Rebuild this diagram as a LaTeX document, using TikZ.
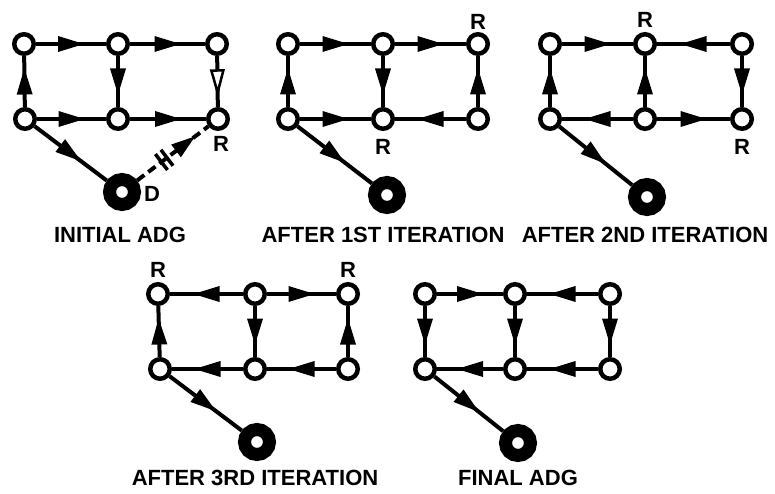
\documentclass[tikz,border=0pt]{standalone}
\usepackage{fontspec}
\usepackage{tikz}
\usetikzlibrary{decorations.markings}
\setmainfont{Liberation Sans}

\tikzset{
    vertex/.style={draw, circle, line width=4.5pt, fill=white, inner sep=0pt, minimum size=19.5pt},
    sink/.style={draw, circle, line width=13pt, fill=white, inner sep=0pt, minimum size=25pt},
    flow/.style={line width=4pt, postaction={decorate, decoration={markings,
        mark=at position 0.5 with {\fill (-13pt,-8pt) -- (13pt,0pt) -- (-13pt,8pt) -- cycle;}}}},
    flow open/.style={line width=4pt, postaction={decorate, decoration={markings,
        mark=at position 0.5 with {\draw[line width=2.5pt, fill=white, line join=miter] (-11pt,-6pt) -- (11pt,0pt) -- (-11pt,6pt) -- cycle;}}}},
    cutflow/.style={line width=4pt, dash pattern=on 9pt off 5pt, postaction={decorate, decoration={markings,
        mark=at position 0.38 with {\draw[solid, line width=3.5pt] (-3.5pt,-10pt) -- (-3.5pt,10pt) (3.5pt,-10pt) -- (3.5pt,10pt);},
        mark=at position 0.68 with {\fill (-12pt,-8pt) -- (12pt,0pt) -- (-12pt,8pt) -- cycle;}}}},
    tag/.style={inner sep=0pt, font=\bfseries\fontsize{22}{24}\selectfont},
    caption/.style={inner sep=0pt, font=\bfseries\fontsize{22}{24}\selectfont}
}

\begin{document}
\begin{tikzpicture}[x=1pt, y=-1pt]
    \useasboundingbox (0,0) rectangle (775,494);

    %% Initial ADG
    \node[vertex] (ini-a1) at (24, 44) {};
    \node[vertex] (ini-a2) at (118, 44) {};
    \node[vertex] (ini-a3) at (217, 44) {};
    \node[vertex] (ini-b1) at (25, 119) {};
    \node[vertex] (ini-b2) at (118, 119) {};
    \node[vertex] (ini-b3) at (218, 119) {};
    \node[sink] (ini-s) at (122, 192) {};
    \node[tag] (ini-r) at (221, 144) {R};
    \node[tag] (ini-d) at (152, 194) {D};
    \node[caption] (ini-cap) at (120, 235) {INITIAL ADG};

    \draw[flow] (ini-a1) -- (ini-a2);
    \draw[flow] (ini-a2) -- (ini-a3);
    \draw[flow] (ini-b1) -- (ini-a1);
    \draw[flow] (ini-a2) -- (ini-b2);
    \draw[flow open] (ini-a3) -- (ini-b3);
    \draw[flow] (ini-b1) -- (ini-b2);
    \draw[flow] (ini-b2) -- (ini-b3);
    \draw[flow] (ini-b1) -- (ini-s);
    % cut edge back to the root
    \draw[cutflow] (ini-s) -- (ini-b3);

    %% After 1st iteration
    \node[vertex] (it1-a1) at (288, 44) {};
    \node[vertex] (it1-a2) at (383, 44) {};
    \node[vertex] (it1-a3) at (478, 44) {};
    \node[vertex] (it1-b1) at (288, 119) {};
    \node[vertex] (it1-b2) at (383, 119) {};
    \node[vertex] (it1-b3) at (478, 119) {};
    \node[sink] (it1-s) at (387, 195) {};
    \node[tag] (it1-r1) at (478, 22) {R};
    \node[tag] (it1-r2) at (383, 147) {R};
    \node[caption] (it1-cap) at (383, 235) {AFTER 1ST ITERATION};

    \draw[flow] (it1-a1) -- (it1-a2);
    \draw[flow] (it1-a2) -- (it1-a3);
    \draw[flow] (it1-b1) -- (it1-a1);
    \draw[flow] (it1-a2) -- (it1-b2);
    \draw[flow] (it1-b3) -- (it1-a3);
    \draw[flow] (it1-b1) -- (it1-b2);
    \draw[flow] (it1-b3) -- (it1-b2);
    \draw[flow] (it1-b1) -- (it1-s);

    %% After 2nd iteration
    \node[vertex] (it2-a1) at (550, 44) {};
    \node[vertex] (it2-a2) at (645, 44) {};
    \node[vertex] (it2-a3) at (742, 44) {};
    \node[vertex] (it2-b1) at (550, 119) {};
    \node[vertex] (it2-b2) at (645, 119) {};
    \node[vertex] (it2-b3) at (742, 119) {};
    \node[sink] (it2-s) at (647, 197) {};
    \node[tag] (it2-r1) at (645, 20) {R};
    \node[tag] (it2-r2) at (742, 147) {R};
    \node[caption] (it2-cap) at (645, 235) {AFTER 2ND ITERATION};

    \draw[flow] (it2-a1) -- (it2-a2);
    \draw[flow] (it2-a3) -- (it2-a2);
    \draw[flow] (it2-b1) -- (it2-a1);
    \draw[flow] (it2-b2) -- (it2-a2);
    \draw[flow] (it2-a3) -- (it2-b3);
    \draw[flow] (it2-b2) -- (it2-b1);
    \draw[flow] (it2-b2) -- (it2-b3);
    \draw[flow] (it2-b1) -- (it2-s);

    %% After 3rd iteration
    \node[vertex] (it3-a1) at (158, 294) {};
    \node[vertex] (it3-a2) at (255, 294) {};
    \node[vertex] (it3-a3) at (348, 294) {};
    \node[vertex] (it3-b1) at (160, 369) {};
    \node[vertex] (it3-b2) at (255, 369) {};
    \node[vertex] (it3-b3) at (348, 369) {};
    \node[sink] (it3-s) at (257, 442) {};
    \node[tag] (it3-r1) at (158, 270) {R};
    \node[tag] (it3-r2) at (348, 270) {R};
    \node[caption] (it3-cap) at (255, 478) {AFTER 3RD ITERATION};

    \draw[flow] (it3-a2) -- (it3-a1);
    \draw[flow] (it3-a2) -- (it3-a3);
    \draw[flow] (it3-b1) -- (it3-a1);
    \draw[flow] (it3-a2) -- (it3-b2);
    \draw[flow] (it3-b3) -- (it3-a3);
    \draw[flow] (it3-b2) -- (it3-b1);
    \draw[flow] (it3-b3) -- (it3-b2);
    \draw[flow] (it3-b1) -- (it3-s);

    %% Final ADG
    \node[vertex] (fin-a1) at (425, 294) {};
    \node[vertex] (fin-a2) at (515, 294) {};
    \node[vertex] (fin-a3) at (610, 294) {};
    \node[vertex] (fin-b1) at (425, 369) {};
    \node[vertex] (fin-b2) at (515, 369) {};
    \node[vertex] (fin-b3) at (610, 369) {};
    \node[sink] (fin-s) at (518, 443) {};
    \node[caption] (fin-cap) at (518, 478) {FINAL ADG};

    \draw[flow] (fin-a1) -- (fin-a2);
    \draw[flow] (fin-a3) -- (fin-a2);
    \draw[flow] (fin-a1) -- (fin-b1);
    \draw[flow] (fin-a2) -- (fin-b2);
    \draw[flow] (fin-a3) -- (fin-b3);
    \draw[flow] (fin-b2) -- (fin-b1);
    \draw[flow] (fin-b3) -- (fin-b2);
    \draw[flow] (fin-b1) -- (fin-s);

\end{tikzpicture}
\end{document}
